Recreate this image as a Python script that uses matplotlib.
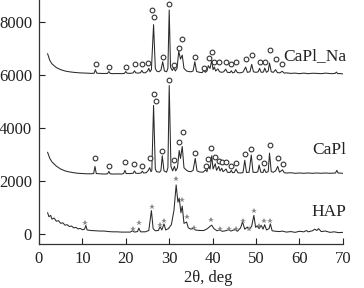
import numpy as np
import matplotlib.pyplot as plt

plt.rcParams['font.family'] = ['Liberation Serif', 'DejaVu Serif']

# CaPl_Na trace (2theta, intensity)
tth_na = [2.0, 2.5, 3, 4, 5, 6, 7, 8, 9, 10, 11, 12, 12.7, 13.0, 13.3, 14, 15, 15.8, 16.1, 16.4,
          17, 18, 19, 19.7, 20.0, 20.3, 21, 21.7, 22.0, 22.3, 23, 23.4, 23.7, 24.0, 24.5, 25.0,
          25.3, 25.6, 25.9, 26.4, 26.8, 27.1, 27.6, 28.1, 28.5, 28.9, 29.4, 29.7, 30.0, 30.3,
          30.7, 31.1, 31.4, 31.8, 32.2, 32.6, 33.0, 33.4, 34.0, 34.5, 35.0, 35.5, 35.9, 36.3,
          37, 37.6, 38.0, 38.3, 38.7, 39.0, 39.4, 39.8, 40.1, 40.4, 40.7, 41.2, 41.6, 42.2,
          42.6, 43.0, 43.4, 44.0, 44.3, 44.6, 45.0, 45.3, 45.7, 46.3, 47.0, 47.6, 48.0, 48.6,
          49.0, 49.4, 50.0, 50.5, 50.8, 51.2, 51.7, 52.0, 52.4, 52.8, 53.1, 53.5, 54.0, 54.5,
          54.9, 55.5, 56.0, 56.5, 57, 58, 59, 60, 61, 62, 63, 64, 65, 66, 67, 67.5, 68.2,
          68.5, 68.8, 69.3, 70]
int_na = [6800, 6550, 6420, 6280, 6200, 6150, 6120, 6100, 6085, 6075, 6070, 6060, 6065, 6200, 6070, 6060, 6055, 6060, 6130, 6060,
          6050, 6055, 6050, 6060, 6130, 6070, 6060, 6080, 6160, 6080, 6070, 6090, 6170, 6090, 6080, 6150,
          6250, 6120, 6200, 7900, 6250, 6150, 6120, 6180, 6500, 6150, 6120, 6250, 8450, 6300,
          6170, 6280, 6150, 6250, 6900, 6600, 6750, 6250, 6150, 6130, 6120, 6150, 6500, 6130,
          6100, 6090, 6180, 6100, 6150, 6350, 6250, 6550, 6200, 6300, 6150, 6230, 6120, 6100,
          6130, 6220, 6100, 6090, 6160, 6080, 6100, 6200, 6090, 6080, 6110, 6300, 6100, 6120,
          6400, 6120, 6100, 6120, 6250, 6100, 6110, 6260, 6100, 6150, 6450, 6120, 6100, 6200,
          6090, 6080, 6140, 6070, 6080, 6060, 6070, 6050, 6070, 6050, 6065, 6060, 6050, 6070, 6055, 6050, 6060,
          6110, 6050, 6055, 6040]
circ_na_x = [13.1, 16.2, 20.1, 22.1, 23.7, 25.2, 26.1, 26.6, 28.5, 30.0, 31.1, 32.3, 32.9, 35.9, 38.0,
             39.1, 39.9, 40.4, 41.4, 43.0, 44.3, 45.3, 47.6, 49.0, 50.8, 52.0, 53.1, 54.5, 56.0]
circ_na_y = [6400, 6310, 6310, 6400, 6400, 6470, 8450, 8180, 6680, 8670, 6380, 7010, 7360, 6680, 6250,
             6630, 6870, 6490, 6490, 6490, 6400, 6480, 6600, 6750, 6480, 6480, 6940, 6600, 6400]

# CaPl trace
tth_capl = [2.0, 2.5, 3, 4, 5, 6, 7, 8, 9, 10, 11, 12, 12.6, 12.9, 13.2, 14, 15, 15.8, 16.1, 16.4,
            17, 18, 19, 19.5, 19.8, 20.1, 21, 21.7, 22.0, 22.3, 23, 23.5, 23.8, 24.1, 24.7, 25.1,
            25.5, 25.8, 26.0, 26.4, 26.8, 27.1, 27.8, 28.1, 28.4, 28.8, 29.4, 29.7, 30.0, 30.4,
            30.8, 31.2, 31.5, 31.9, 32.3, 32.6, 33.0, 33.4, 34.0, 34.5, 35.0, 35.5, 36.0, 36.4,
            37, 37.8, 38.4, 38.7, 39.0, 39.4, 39.8, 40.1, 40.6, 40.9, 41.4, 41.7, 42.1, 42.4,
            43.1, 43.4, 44.0, 44.3, 44.6, 45.0, 45.4, 45.8, 46.5, 47.0, 47.4, 47.8, 48.4, 48.9,
            49.3, 50.0, 50.4, 50.7, 51.1, 51.6, 51.9, 52.3, 52.8, 53.1, 53.5, 54.0, 54.5, 55.0,
            55.4, 56.1, 56.5, 57, 58, 59, 60, 61, 62, 63, 64, 65, 66, 67, 68.3, 68.6, 68.9, 70]
int_capl = [3080, 2850, 2720, 2560, 2450, 2380, 2340, 2310, 2290, 2280, 2270, 2270, 2280, 2550, 2280, 2270, 2260, 2270, 2360, 2270,
            2260, 2265, 2260, 2280, 2400, 2280, 2280, 2290, 2380, 2290, 2285, 2300, 2370, 2300, 2310, 2380,
            2500, 2350, 2400, 4850, 2450, 2350, 2330, 2400, 2950, 2380, 2330, 2500, 5600, 2550,
            2380, 2550, 2380, 2500, 3150, 2850, 3300, 2500, 2400, 2360, 2350, 2400, 2850, 2380,
            2340, 2330, 2420, 2350, 2600, 2450, 2950, 2450, 2650, 2400, 2550, 2380, 2480, 2350,
            2450, 2330, 2320, 2400, 2310, 2320, 2450, 2310, 2300, 2320, 2780, 2320, 2330, 2980,
            2330, 2320, 2350, 2600, 2330, 2320, 2450, 2320, 2350, 3050, 2350, 2330, 2380, 2550,
            2330, 2420, 2310, 2300, 2310, 2290, 2300, 2290, 2300, 2290, 2300, 2290, 2300, 2290, 2300, 2400, 2300, 2290]
circ_capl_x = [12.9, 16.1, 19.8, 22.0, 23.8, 25.6, 26.6, 26.9, 28.4, 30.0, 31.2, 32.2, 33.1, 36.0, 38.4,
               39.0, 39.7, 40.6, 41.4, 42.1, 43.1, 44.3, 45.4, 47.4, 48.9, 50.7, 51.9, 53.1, 55.0, 56.1]
circ_capl_y = [2860, 2570, 2730, 2640, 2570, 2860, 5270, 5020, 3140, 5810, 2790, 3460, 3840, 3040, 2570,
               2820, 3230, 2920, 2750, 2730, 2700, 2570, 2670, 3010, 3210, 2920, 2670, 3360, 2860, 2630]

# HAP trace
tth_hap = [2.0, 2.3, 2.7, 3, 3.5, 4, 4.5, 5, 5.5, 6, 6.5, 7, 7.5, 8, 8.5, 9, 9.5, 10, 10.5, 10.8,
           11.1, 12, 13, 14, 15, 16, 17, 18, 19, 20, 21, 21.6, 22, 22.7, 23.0, 23.4, 24.5, 25.3,
           25.9, 26.3, 26.8, 27.5, 27.9, 28.3, 28.8, 29.2, 29.8, 30.5, 31.1, 31.6, 32.0, 32.3,
           32.7, 33.0, 33.4, 34.0, 34.4, 35.0, 35.6, 36, 37, 38, 38.8, 39.5, 39.8, 40.3, 41,
           41.7, 42.2, 43, 43.7, 44.2, 45.2, 45.7, 46.4, 46.9, 47.4, 48.0, 48.4, 49.0, 49.5,
           49.9, 50.3, 50.7, 51.2, 51.6, 52.0, 52.4, 53.0, 53.3, 53.7, 54.5, 55.5, 56, 57, 58,
           59, 60, 61, 61.6, 62, 63, 63.5, 64, 64.4, 65, 66, 67, 68, 69, 70]
int_hap = [800, 650, 700, 560, 600, 480, 500, 400, 420, 330, 350, 280, 300, 230, 250, 190, 210, 160, 180, 320,
           150, 130, 120, 110, 110, 90, 80, 80, 70, 70, 70, 120, 70, 90, 220, 80, 80, 130,
           880, 200, 120, 130, 270, 150, 380, 150, 200, 350, 900, 1850, 1200, 1350,
           800, 1050, 400, 450, 230, 180, 220, 150, 130, 130, 200, 300, 330, 200, 120,
           150, 100, 120, 160, 110, 170, 100, 220, 450, 180, 260, 150, 300, 700,
           250, 300, 200, 330, 180, 350, 150, 200, 380, 120, 100, 90, 110, 70, 90,
           60, 100, 80, 130, 80, 120, 180, 130, 200, 90, 110, 60, 80, 50, 60]
star_hap_x = [10.6, 21.6, 23.1, 26.0, 27.9, 28.8, 31.6, 33.0, 34.1, 35.6, 39.7, 41.8, 43.7, 45.3,
              47.0, 48.4, 49.6, 50.7, 51.9, 53.2]
star_hap_y = [415, 190, 400, 1030, 340, 500, 2080, 1280, 650, 240, 530, 190, 190, 190,
              500, 190, 880, 310, 480, 480]

labels = ['CaPl_Na', 'CaPl', 'HAP']
label_y = [6700, 3170, 830]

fig = plt.figure(figsize=(3.64, 2.88), dpi=100)
ax = fig.add_axes([0.107, 0.153, 0.835, 0.847])

lc = '#2a2a2a'
for x, y in [(tth_na, int_na), (tth_capl, int_capl), (tth_hap, int_hap)]:
    ax.plot(x, y, color=lc, lw=0.75)

ax.plot(circ_na_x, circ_na_y, 'o', ms=3.4, mfc='white', mec='#333333', mew=0.8, ls='none')
ax.plot(circ_capl_x, circ_capl_y, 'o', ms=3.4, mfc='white', mec='#333333', mew=0.8, ls='none')
ax.plot(star_hap_x, star_hap_y, '*', ms=4, color='#888888', mew=0, ls='none')

for lab, yy in zip(labels, label_y):
    ax.text(70.8, yy, lab, ha='right', va='center', fontsize=12.5, color='#222222', clip_on=False)

ax.set_xlim(0, 70)
ax.set_ylim(-377, 8830)
ax.set_xticks(np.arange(0, 71, 10))
ax.set_yticks([0, 2000, 4000, 6000, 8000])
ax.tick_params(direction='in', length=4, width=0.8, labelsize=12, colors='#222222', pad=5)
for s in ['top', 'right']:
    ax.spines[s].set_visible(False)
for s in ['left', 'bottom']:
    ax.spines[s].set_color('#333333')
    ax.spines[s].set_linewidth(0.9)

ax.set_xlabel('2θ, deg', fontsize=12, color='#222222')
ax.xaxis.set_label_coords(0.556, -0.108)
ax.xaxis.label.set_va('top')

plt.savefig('out.png', dpi=100)
